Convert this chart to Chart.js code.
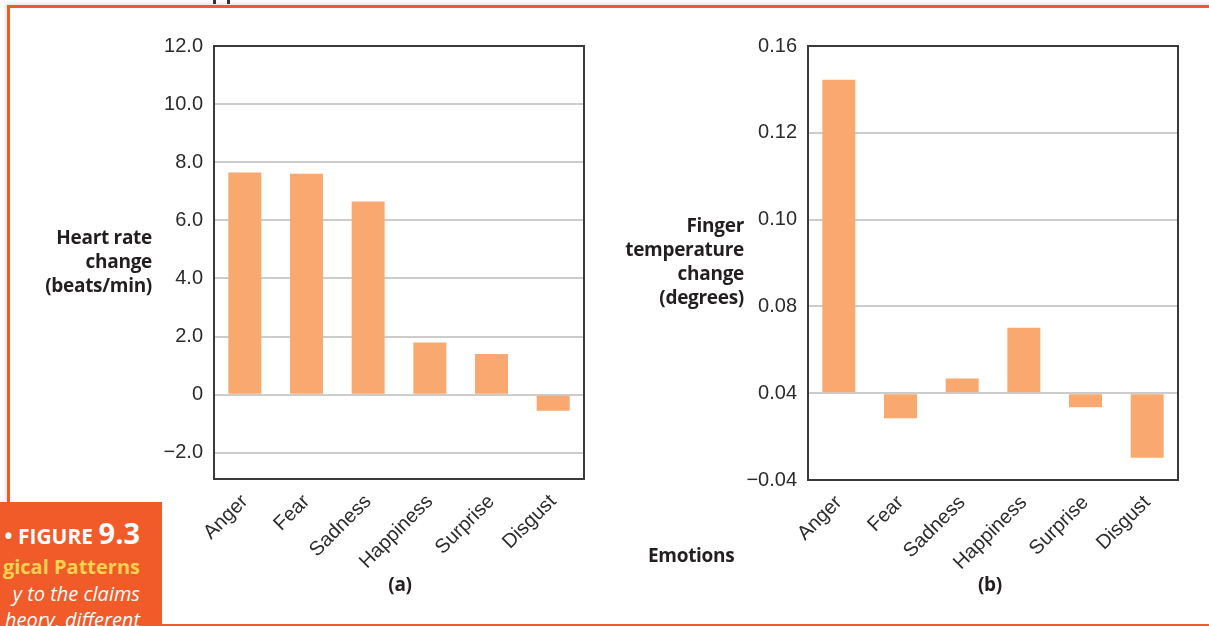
<!DOCTYPE html>
<html>
<head>
<meta charset="utf-8">
<script src="https://cdn.jsdelivr.net/npm/chart.js@4.4.0/dist/chart.umd.min.js"></script>
<style>
  html, body { margin: 0; padding: 0; background: #fff; }
  body { width: 1209px; height: 626px; position: relative; overflow: hidden; font-family: "Liberation Sans", Arial, sans-serif; }
  .frame { position: absolute; left: 7px; top: 5px; width: 1215px; height: 616px;
           border-top: 3px solid #f15a29; border-left: 3px solid #f15a29; border-bottom: 2px solid #f15a29;
           box-shadow: -2px -2px 4px rgba(0,0,0,0.10); }
  .tick-mark { position: absolute; top: 0; width: 3px; height: 4px; background: #333; }
  canvas { position: absolute; }
  .title { position: absolute; font-family: "Open Sans", sans-serif; font-weight: 700; font-size: 19px;
           line-height: 24px; color: #231f20; white-space: nowrap; letter-spacing: -0.3px; }
  .right { text-align: right; }
  .caption { position: absolute; left: 0; top: 502px; width: 162px; height: 124px; background: #f15a29; overflow: hidden; }
  .caption div { position: absolute; right: 22px; white-space: nowrap; font-family: "Open Sans", sans-serif; color: #fff; }
</style>
</head>
<body>
<div class="frame"></div>
<div class="tick-mark" style="left:213px"></div>
<div class="tick-mark" style="left:227px"></div>

<canvas id="heartChart" width="480" height="596" style="left:120px; top:23px;"></canvas>
<canvas id="tempChart" width="500" height="596" style="left:700px; top:23px;"></canvas>

<div class="title right" style="right:1057px; top:225px;">Heart rate<br>change<br>(beats/min)</div>
<div class="title right" style="right:465px; top:213px;">Finger<br>temperature<br>change<br>(degrees)</div>
<div class="title" style="left:648px; top:543px;">Emotions</div>
<div class="title" style="left:385px; width:30px; text-align:center; top:572px;">(a)</div>
<div class="title" style="left:975px; width:30px; text-align:center; top:572px;">(b)</div>

<div class="caption">
  <div style="top:16px; font-weight:700; font-size:21px; line-height:30px;">&bull; FIGURE <span style="font-size:29px;">9.3</span></div>
  <div style="top:52px; font-weight:700; font-size:20px; line-height:26px; color:#ffd24f;">gical Patterns</div>
  <div style="top:79px; font-style:italic; font-size:20px; line-height:26px;">y to the claims</div>
  <div style="top:105px; font-style:italic; font-size:20px; line-height:26px;">heory, different</div>
</div>

<script>
// Emotion categories shared by both panels
const emotions = ['Anger', 'Fear', 'Sadness', 'Happiness', 'Surprise', 'Disgust'];

// (a) heart rate change, beats/min
const heartRate = [7.65, 7.6, 6.65, 1.8, 1.4, -0.55];
const heartTicks = [-2, 0, 2, 4, 6, 8, 10, 12];
const heartTickLabels = ['\u22122.0', '0', '2.0', '4.0', '6.0', '8.0', '10.0', '12.0'];

// (b) finger temperature change, degrees (axis labels as printed)
const fingerTemp = [0.1445, -0.0115, 0.0068, 0.0302, -0.0065, -0.0298];
const tempTicks = [-0.04, 0, 0.04, 0.08, 0.12, 0.16];
const tempTickLabels = ['\u22120.04', '0.04', '0.08', '0.10', '0.12', '0.16'];

const barColor = '#f9a86f';
const tickFont = { family: '"Liberation Sans", Arial, sans-serif', size: 20 };
const tickColor = '#2b2b2b';

// box around the plot area
const framePlugin = {
    id: 'frame',
    afterDatasetsDraw(chart) {
        const { ctx, chartArea: a } = chart;
        ctx.save();
        ctx.strokeStyle = '#3a3a3a';
        ctx.lineWidth = 2;
        ctx.strokeRect(a.left, a.top, a.right - a.left, a.bottom - a.top);
        ctx.restore();
    }
};

function makeChart(id, values, ticks, tickLabels, min, max, yWidth, xHeight, padRight) {
    const ctx = document.getElementById(id).getContext('2d');
    return new Chart(ctx, {
        type: 'bar',
        data: {
            labels: emotions,
            datasets: [{
                data: values,
                backgroundColor: barColor,
                borderWidth: 0,
                barPercentage: 0.535,
                categoryPercentage: 1
            }]
        },
        options: {
            responsive: false,
            animation: false,
            layout: { padding: { top: 8, right: padRight, left: 0, bottom: 0 } },
            plugins: {
                legend: { display: false },
                tooltip: { enabled: false }
            },
            scales: {
                x: {
                    grid: { display: false },
                    border: { display: false },
                    ticks: {
                        font: tickFont,
                        color: tickColor,
                        maxRotation: 45,
                        minRotation: 45,
                        autoSkip: false,
                        padding: 3
                    },
                    afterFit: (scale) => { scale.height = xHeight; }
                },
                y: {
                    min: min,
                    max: max,
                    grid: { color: '#cccccc', lineWidth: 2, drawTicks: false },
                    border: { display: false },
                    afterBuildTicks: (scale) => { scale.ticks = ticks.map(v => ({ value: v })); },
                    ticks: {
                        font: tickFont,
                        color: tickColor,
                        padding: 11,
                        callback: (value, index) => tickLabels[index]
                    },
                    afterFit: (scale) => { scale.width = yWidth; }
                }
            }
        },
        plugins: [framePlugin]
    });
}

makeChart('heartChart', heartRate, heartTicks, heartTickLabels, -2.9, 12, 94, 140, 16);
makeChart('tempChart', fingerTemp, tempTicks, tempTickLabels, -0.04, 0.16, 108, 139, 22);
</script>
</body>
</html>
